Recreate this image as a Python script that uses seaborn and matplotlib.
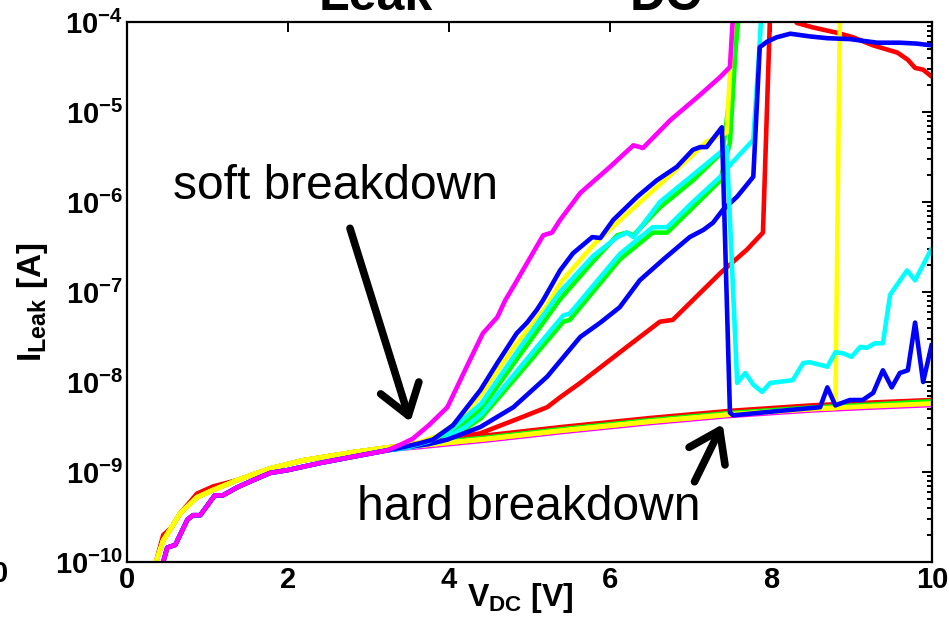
import numpy as np
import pandas as pd
import matplotlib
matplotlib.use("Agg")
import matplotlib.pyplot as plt
from matplotlib import font_manager as fm
from matplotlib.ticker import LogLocator, NullFormatter
import seaborn as sns

# ---------------------------------------------------------------------------
# Leakage current sweeps, I_Leak (log10 of amps) versus V_DC (volts)
# ---------------------------------------------------------------------------
# shared onset of the sweeps that sit low at small bias (magenta / blue / cyan)
base_low_v = [0.38, 0.45, 0.50, 0.60, 0.75, 0.82, 0.91, 1.09, 1.19, 1.37,
              1.57, 1.78, 1.99, 2.40, 2.81, 3.23]
base_low_logi = [-10.3, -10.0, -9.84, -9.81, -9.53, -9.48, -9.48, -9.26, -9.26,
                 -9.17, -9.09, -9.01, -8.98, -8.90, -8.83, -8.76]

# shared onset of the sweeps that sit high at small bias (yellow / red / green)
base_high_v = [0.30, 0.36, 0.45, 0.55, 0.66, 0.87, 1.07, 1.37, 1.78, 2.19,
               2.81, 3.30]
base_high_logi = [-10.3, -10.0, -9.76, -9.62, -9.46, -9.28, -9.20, -9.09,
                  -8.96, -8.87, -8.78, -8.72]
red_onset_logi = [-10.3, -10.0, -9.70, -9.62, -9.46, -9.24, -9.16, -9.09,
                  -8.96, -8.87, -8.78, -8.72]

# sweeps that stay on the intrinsic leakage line
line_v = [3.6, 4.5, 5.4, 6.5, 7.5, 8.5, 9.2, 10.0]
yellow_line_logi = [-8.71, -8.63, -8.54, -8.44, -8.36, -8.30, -8.27, -8.24]
green_line_logi = [-8.69, -8.61, -8.52, -8.42, -8.34, -8.28, -8.25, -8.21]
red_line_logi = [-8.68, -8.59, -8.50, -8.40, -8.32, -8.26, -8.23, -8.20]
magenta_line_logi = [-8.73, -8.65, -8.56, -8.46, -8.38, -8.32, -8.29, -8.26]

# yellow sweep that fails abruptly at 8.8 V
yellow_hard_v = [3.6, 4.5, 5.4, 6.5, 7.5, 8.5, 8.80, 8.86]
yellow_hard_logi = [-8.71, -8.63, -8.54, -8.44, -8.36, -8.30, -8.29, -3.6]

# soft-breakdown sweeps
magenta_v = [3.39, 3.55, 3.75, 3.98, 4.22, 4.42, 4.60, 4.70, 4.80, 5.04, 5.17,
             5.28, 5.38, 5.63, 6.00, 6.29, 6.41, 6.75, 7.08, 7.37, 7.49, 7.55]
magenta_logi = [-8.70, -8.63, -8.48, -8.28, -7.83, -7.46, -7.28, -7.09, -6.94,
                -6.57, -6.37, -6.34, -6.20, -5.90, -5.61, -5.37, -5.40, -5.09,
                -4.84, -4.61, -4.50, -3.6]

blue_hard_v = [3.45, 3.64, 3.80, 4.05, 4.39, 4.60, 4.84, 4.97, 5.09, 5.17,
               5.38, 5.54, 5.78, 5.88, 6.04, 6.34, 6.58, 6.83, 7.03, 7.12,
               7.20, 7.39, 7.49, 7.53, 8.00, 8.61, 8.70, 8.80, 8.98, 9.14,
               9.27, 9.39, 9.50, 9.60, 9.70, 9.79, 9.89, 10.0]
blue_hard_logi = [-8.72, -8.68, -8.64, -8.48, -8.09, -7.79, -7.46, -7.34,
                  -7.20, -7.09, -6.76, -6.57, -6.39, -6.40, -6.20, -5.94,
                  -5.76, -5.61, -5.42, -5.39, -5.39, -5.17, -8.34, -8.37,
                  -8.33, -8.28, -8.06, -8.26, -8.20, -8.20, -8.12, -7.87,
                  -8.06, -7.90, -7.87, -7.34, -8.00, -7.57]

yellow_soft_v = [3.6, 3.85, 4.1, 4.4, 4.8, 5.2, 5.4, 5.8, 6.2, 6.6, 7.0, 7.2,
                 7.45, 7.55]
yellow_soft_logi = [-8.68, -8.60, -8.45, -8.14, -7.62, -7.17, -6.88, -6.47,
                    -6.14, -5.82, -5.50, -5.33, -5.23, -3.6]

cyan_drop_v = [3.5, 3.75, 4.0, 4.4, 4.88, 5.38, 5.79, 6.09, 6.21, 6.29, 6.62,
               7.03, 7.45, 7.58, 7.68, 7.78, 7.89, 7.99, 8.27, 8.40, 8.48,
               8.70, 8.80, 8.89, 9.00, 9.11, 9.19, 9.29, 9.39, 9.48, 9.69,
               9.79, 10.0]
cyan_drop_logi = [-8.72, -8.66, -8.55, -8.24, -7.62, -7.00, -6.60, -6.39,
                  -6.34, -6.39, -6.00, -5.70, -5.39, -8.01, -7.90, -8.03,
                  -8.11, -8.01, -7.98, -7.79, -7.78, -7.83, -7.67, -7.68,
                  -7.72, -7.61, -7.62, -7.57, -7.57, -7.03, -6.76, -6.87,
                  -6.51]

green_soft_v = [3.6, 3.85, 4.1, 4.4, 4.88, 5.38, 5.79, 6.09, 6.21, 6.29, 6.62,
                7.03, 7.40, 7.52, 7.64]
green_soft_logi = [-8.70, -8.64, -8.52, -8.30, -7.70, -7.08, -6.66, -6.37,
                   -6.34, -6.37, -6.06, -5.76, -5.44, -4.60, -3.6]

green_late_v = [3.6, 3.9, 4.2, 4.4, 4.88, 5.42, 5.50, 6.12, 6.53, 6.71, 7.03,
                7.37, 7.49, 7.58, 7.62]
green_late_logi = [-8.71, -8.66, -8.52, -8.40, -7.90, -7.33, -7.31, -6.64,
                   -6.34, -6.34, -6.06, -5.76, -5.34, -4.00, -3.6]

cyan_late_v = [3.5, 3.9, 4.2, 4.4, 4.88, 5.42, 5.50, 6.12, 6.53, 6.71, 7.03,
               7.37, 7.52, 7.78, 7.86, 7.90]
cyan_late_logi = [-8.73, -8.66, -8.50, -8.36, -7.84, -7.26, -7.24, -6.58,
                  -6.28, -6.28, -6.00, -5.72, -5.56, -5.31, -4.23, -3.6]

blue_late_v = [3.5, 3.75, 3.98, 4.39, 4.80, 5.22, 5.63, 5.88, 6.12, 6.37,
               6.66, 6.99, 7.16, 7.28, 7.40, 7.58, 7.78, 7.86, 7.95, 8.07,
               8.24, 8.48, 8.70, 8.98, 9.32, 9.60, 9.81, 10.0]
blue_late_logi = [-8.72, -8.69, -8.64, -8.50, -8.28, -7.94, -7.50, -7.34,
                  -7.17, -6.87, -6.64, -6.39, -6.31, -6.23, -6.09, -5.94,
                  -5.72, -4.28, -4.22, -4.17, -4.13, -4.16, -4.18, -4.19,
                  -4.23, -4.23, -4.24, -4.26]

red_late_v = [3.6, 3.8, 4.05, 4.39, 4.88, 5.22, 5.38, 5.63, 5.79, 6.21, 6.62,
              6.78, 7.03, 7.37, 7.70, 7.90, 8.00, 8.22, 8.32, 8.52, 8.82, 9.02,
              9.27, 9.57, 9.70, 9.79, 9.89, 10.0]
red_late_logi = [-8.70, -8.67, -8.62, -8.57, -8.40, -8.28, -8.17, -8.01,
                 -7.90, -7.61, -7.33, -7.31, -7.09, -6.79, -6.53, -6.34, -3.6,
                 -3.8, -4.01, -4.06, -4.12, -4.17, -4.26, -4.34, -4.42, -4.51,
                 -4.53, -4.61]

x_ticks = [0, 2, 4, 6, 8, 10]
y_decades = [-10, -9, -8, -7, -6, -5, -4]

# (name, colour, onset v, onset log I, tail v, tail log I, line width), in drawing order
sweeps = [
    ("green soft", "#00ff00", base_high_v, base_high_logi, green_soft_v, green_soft_logi, 3.3),
    ("green late", "#00ff00", base_high_v, base_high_logi, green_late_v, green_late_logi, 3.3),
    ("red late", "#ff0000", base_high_v, base_high_logi, red_late_v, red_late_logi, 3.3),
    ("magenta line", "#ff00ff", base_low_v, base_low_logi, line_v, magenta_line_logi, 2.8),
    ("red line", "#ff0000", base_high_v, red_onset_logi, line_v, red_line_logi, 3.3),
    ("green line", "#00ff00", base_high_v, base_high_logi, line_v, green_line_logi, 2.8),
    ("yellow line", "#ffff00", base_high_v, base_high_logi, line_v, yellow_line_logi, 3.5),
    ("yellow hard", "#ffff00", base_high_v, base_high_logi, yellow_hard_v, yellow_hard_logi, 3.3),
    ("yellow soft", "#ffff00", base_high_v, base_high_logi, yellow_soft_v, yellow_soft_logi, 3.3),
    ("cyan late", "#00ffff", base_low_v, base_low_logi, cyan_late_v, cyan_late_logi, 3.3),
    ("blue late", "#0000ff", base_low_v, base_low_logi, blue_late_v, blue_late_logi, 3.3),
    ("cyan drop", "#00ffff", base_low_v, base_low_logi, cyan_drop_v, cyan_drop_logi, 3.3),
    ("blue hard", "#0000ff", base_low_v, base_low_logi, blue_hard_v, blue_hard_logi, 3.3),
    ("magenta soft", "#ff00ff", base_low_v, base_low_logi, magenta_v, magenta_logi, 3.3),
]

rows = []
for name, _, v0, l0, v1, l1, _ in sweeps:
    for v, li in zip(list(v0) + list(v1), list(l0) + list(l1)):
        rows.append({"sweep": name, "V": v, "I": 10.0 ** li})
df = pd.DataFrame(rows)


def first_font(names):
    for n in names:
        try:
            fm.findfont(fm.FontProperties(family=n), fallback_to_default=False)
            return n
        except ValueError:
            continue
    return "DejaVu Sans"


label_font = first_font(["Liberation Sans Narrow", "Liberation Sans", "Arial"])
note_font = first_font(["Liberation Sans", "Arial"])

sns.set_style("white")
plt.rcParams["font.family"] = [label_font, "DejaVu Sans"]
plt.rcParams["mathtext.fontset"] = "custom"
plt.rcParams["mathtext.rm"] = label_font
plt.rcParams["mathtext.bf"] = label_font + ":bold"
plt.rcParams["mathtext.it"] = label_font + ":italic"
for key in ["text.color", "axes.labelcolor", "xtick.color", "ytick.color",
            "axes.edgecolor"]:
    plt.rcParams[key] = "black"

fig = plt.figure(figsize=(9.49, 6.32), dpi=100)
ax = fig.add_axes([127 / 949, 1 - 562 / 632, 805 / 949, 540 / 632])

for name, color, _, _, _, _, lw in sweeps:
    sns.lineplot(data=df[df["sweep"] == name], x="V", y="I", color=color,
                 linewidth=lw, sort=False, estimator=None, legend=False, ax=ax,
                 solid_joinstyle="round", solid_capstyle="butt")

ax.set_yscale("log")
ax.set_xlim(0, 10)
ax.set_ylim(1e-10, 1e-4)

ax.set_xticks(x_ticks)
ax.set_xticklabels([str(t) for t in x_ticks], fontsize=21, fontweight="bold")
ax.set_yticks([10.0 ** k for k in y_decades])
ax.set_yticklabels([rf"$\mathbf{{10^{{{k}}}}}$" for k in y_decades], fontsize=21)
ax.yaxis.set_minor_locator(LogLocator(base=10, subs=np.arange(2, 10), numticks=30))
ax.yaxis.set_minor_formatter(NullFormatter())
ax.tick_params(which="both", direction="in", top=True, right=True,
               width=1.4, color="black")
ax.tick_params(which="major", length=7, pad=3)
ax.tick_params(which="minor", length=3.5)
for s in ax.spines.values():
    s.set_linewidth(1.6)
    s.set_color("black")

ax.set_xlabel(r"$\mathbf{V_{DC}}$ $\mathbf{[V]}$", fontsize=23)
ax.xaxis.set_label_coords(0.488, -0.035)
ax.set_ylabel(r"$\mathbf{I_{Leak}}$ $\mathbf{[A]}$", fontsize=24)
ax.yaxis.set_label_coords(-0.096, 0.48)

# breakdown annotations
arrow_style = dict(arrowstyle="->,head_length=0.65,head_width=0.45",
                   color="black", lw=5.5, mutation_scale=32,
                   shrinkA=0, shrinkB=0)
ax.annotate("", xy=(3.52, 3.6e-9), xytext=(2.77, 5.1e-7), arrowprops=arrow_style)
ax.annotate("", xy=(7.40, 3.4e-9), xytext=(7.05, 7.8e-10), arrowprops=arrow_style)
fig.text(173 / 949, 1 - 199 / 632, "soft breakdown", fontsize=34.5,
         family=note_font, va="baseline", ha="left", color="black")
fig.text(357 / 949, 1 - 520 / 632, "hard breakdown", fontsize=34.5,
         family=note_font, va="baseline", ha="left", color="black")

# heading fragments at the top edge and the neighbouring panel's tick label
fig.text(319 / 949, 1 - 10 / 632, "Leak", fontsize=36, fontweight="bold",
         va="baseline", ha="left")
fig.text(630 / 949, 1 - 10 / 632, "DC", fontsize=36, fontweight="bold",
         va="baseline", ha="left")
fig.text(8 / 949, 1 - 582 / 632, "0", fontsize=21, fontweight="bold",
         va="baseline", ha="right")

fig.savefig("out.png", dpi=100)
